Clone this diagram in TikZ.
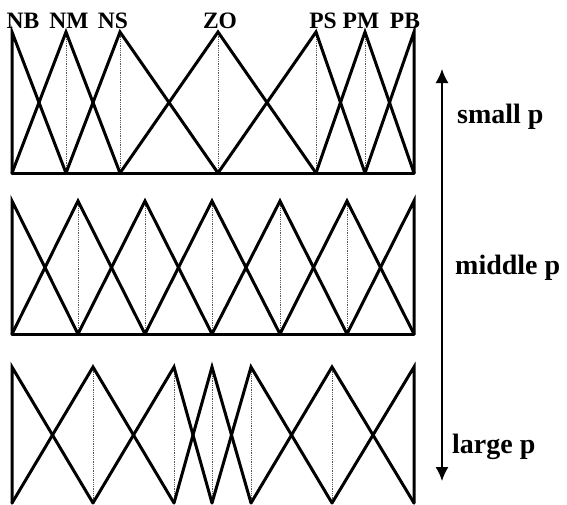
\documentclass[tikz,border=0pt]{standalone}
\usepackage{fontspec}
\setmainfont{Liberation Serif}
\usetikzlibrary{arrows.meta}

\tikzset{
  mf/.style={line width=3pt, line join=miter, line cap=round},
  peakline/.style={densely dotted, gray!70!black, line width=0.8pt},
  setlabel/.style={font=\fontsize{23.5}{24}\selectfont\bfseries, anchor=base, inner sep=0pt},
  plabel/.style={font=\fontsize{28}{30}\selectfont\bfseries, anchor=base west, inner sep=0pt}
}

\begin{document}
\begin{tikzpicture}[x=1pt, y=-1pt]
\useasboundingbox (0,0) rectangle (567,504);
% top panel: small p, sets crowded near the ends
\foreach \x in {66,120,218,316,365}
  \draw[peakline] (\x,32) -- (\x,173);
\draw[mf] (12,173) -- (12,32) -- (66,173);
\draw[mf] (12,173) -- (66,32) -- (120,173);
\draw[mf] (66,173) -- (120,32) -- (218,173);
\draw[mf] (120,173) -- (218,32) -- (316,173);
\draw[mf] (218,173) -- (316,32) -- (365,173);
\draw[mf] (316,173) -- (365,32) -- (414,173);
\draw[mf] (365,173) -- (414,32) -- (414,173);
\draw[mf] (12,173) -- (414,173);
% set names along the top
\node[setlabel] (lnb) at (23,28) {NB};
\node[setlabel] (lnm) at (69,28) {NM};
\node[setlabel] (lns) at (113,28) {NS};
\node[setlabel] (lzo) at (220,28) {ZO};
\node[setlabel] (lps) at (323,28) {PS};
\node[setlabel] (lpm) at (361,28) {PM};
\node[setlabel] (lpb) at (405,28) {PB};
% middle panel: middle p, even spacing
\foreach \x in {78,145,212,280,347}
  \draw[peakline] (\x,201) -- (\x,334);
\draw[mf] (12,334) -- (12,201) -- (78,334);
\draw[mf] (12,334) -- (78,201) -- (145,334);
\draw[mf] (78,334) -- (145,201) -- (212,334);
\draw[mf] (145,334) -- (212,201) -- (280,334);
\draw[mf] (212,334) -- (280,201) -- (347,334);
\draw[mf] (280,334) -- (347,201) -- (414,334);
\draw[mf] (347,334) -- (414,201) -- (414,334);
\draw[mf] (12,334) -- (414,334);
% bottom panel: large p, sets crowded near zero
\foreach \x in {93,174,212,251,332}
  \draw[peakline] (\x,367) -- (\x,503);
\draw[mf] (12,503) -- (12,367) -- (93,503);
\draw[mf] (12,503) -- (93,367) -- (174,503);
\draw[mf] (93,503) -- (174,367) -- (212,503);
\draw[mf] (174,503) -- (212,367) -- (251,503);
\draw[mf] (212,503) -- (251,367) -- (332,503);
\draw[mf] (251,503) -- (332,367) -- (414,503);
\draw[mf] (332,503) -- (414,367) -- (414,503);
% the p axis on the right
\coordinate (ptop) at (442,69);
\coordinate (pbot) at (442,481);
\draw[line width=1.5pt, {Latex[length=14pt,width=13pt]}-{Latex[length=14pt,width=13pt]}] (ptop) -- (pbot);
\node[plabel] (small) at (457,123) {small p};
\node[plabel] (middle) at (455,274) {middle p};
\node[plabel] (large) at (452,453) {large p};
\end{tikzpicture}
\end{document}
